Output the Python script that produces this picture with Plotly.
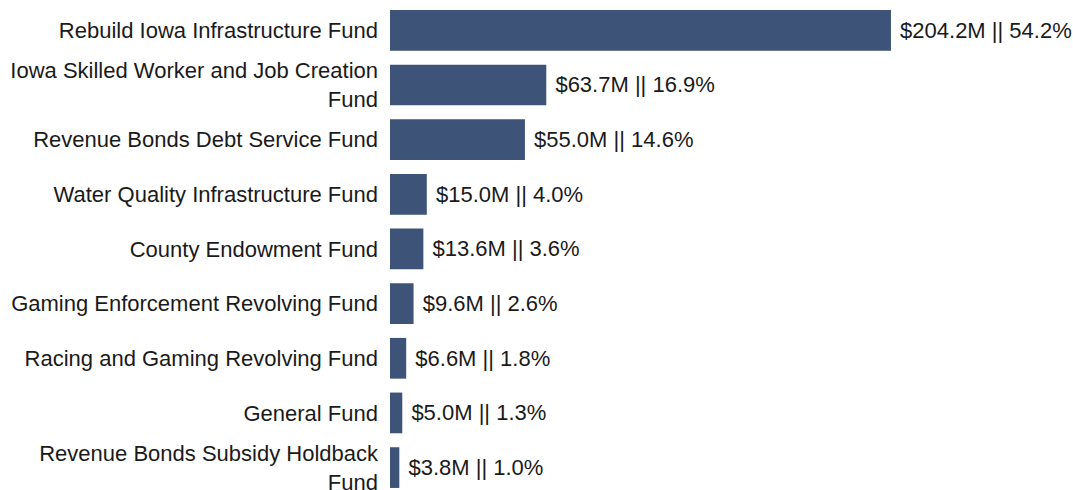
import plotly.graph_objects as go

categories = [
    "Rebuild Iowa Infrastructure Fund",
    "Iowa Skilled Worker and Job Creation<br>Fund",
    "Revenue Bonds Debt Service Fund",
    "Water Quality Infrastructure Fund",
    "County Endowment Fund",
    "Gaming Enforcement Revolving Fund",
    "Racing and Gaming Revolving Fund",
    "General Fund",
    "Revenue Bonds Subsidy Holdback<br>Fund",
]
values_m = [204.2, 63.7, 55.0, 15.0, 13.6, 9.6, 6.6, 5.0, 3.8]
shares_pct = [54.2, 16.9, 14.6, 4.0, 3.6, 2.6, 1.8, 1.3, 1.0]

labels = [f"\u00a0${v:.1f}M || {p:.1f}%" for v, p in zip(values_m, shares_pct)]

FONT = "Liberation Sans, Arial, sans-serif"

fig = go.Figure(go.Bar(
    x=values_m,
    y=categories,
    orientation="h",
    marker=dict(color="#3d5378", line=dict(width=0)),
    text=labels,
    textposition="outside",
    constraintext="none",
    cliponaxis=False,
    textfont=dict(family=FONT, size=22, color="#1a1a1a"),
))

fig.update_layout(
    width=1073, height=490,
    margin=dict(l=390, r=0, t=0, b=0, autoexpand=False),
    paper_bgcolor="white", plot_bgcolor="white",
    bargap=0.255,
    showlegend=False,
    font=dict(family=FONT, size=22, color="#1a1a1a"),
)
fig.update_xaxes(range=[0, 278.4], visible=False, showgrid=False, zeroline=False,
                 automargin=False)
fig.update_yaxes(range=[8.41, -0.555], type="category", showgrid=False,
                 zeroline=False, showline=False, ticks="", ticklabelstandoff=11,
                 automargin=False,
                 tickfont=dict(family=FONT, size=22, color="#1a1a1a"))

fig.write_html("out.html",
               config={"displayModeBar": False},
               post_script="document.body.style.margin='0';document.body.style.overflow='hidden';")
